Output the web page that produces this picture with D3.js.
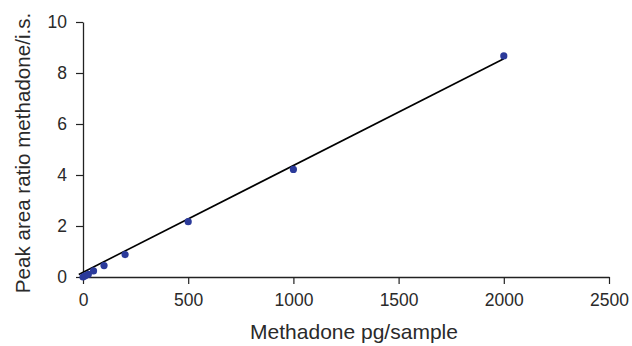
<!DOCTYPE html>
<html><head><meta charset="utf-8">
<script src="https://cdn.jsdelivr.net/npm/d3@7"></script>
<style>body{margin:0;background:#fff}svg{display:block}text{font-family:"Liberation Sans",Arial,sans-serif}</style>
</head><body>
<svg id="c" width="632" height="346"></svg>
<script>
const amounts = [0, 10, 25, 50, 100, 200, 500, 1000, 2000];
const ratios = [0.0, 0.05, 0.1, 0.24, 0.45, 0.88, 2.17, 4.22, 8.67];
const fitX = [-20, 2000];
const fitY = [0.1, 8.56];
const xTicks = [0, 500, 1000, 1500, 2000, 2500];
const yTicks = [0, 2, 4, 6, 8, 10];

const svg = d3.select("#c");
const x = d3.scaleLinear().domain([0, 2500]).range([83, 609]);
const y = d3.scaleLinear().domain([0, 10]).range([277, 22]);

const xa = svg.append("g").attr("transform", "translate(0,277)")
  .call(d3.axisBottom(x).tickValues(xTicks).tickFormat(d3.format("d")).tickSize(7).tickPadding(10).tickSizeOuter(0));
const ya = svg.append("g").attr("transform", "translate(83,0)")
  .call(d3.axisLeft(y).tickValues(yTicks).tickFormat(d3.format("d")).tickSize(7).tickPadding(9).tickSizeOuter(0));
[xa, ya].forEach(a => {
  a.attr("font-size", null).attr("font-family", null);
  a.select(".domain").attr("stroke", "#222").attr("stroke-width", 1.3);
  a.selectAll(".tick line").attr("stroke", "#222").attr("stroke-width", 1.2);
  a.selectAll("text").style("font-size", "17.5px").attr("fill", "#2a2a2a")
    .style("font-family", '"Liberation Sans",Arial,sans-serif');
});

svg.append("line")
  .attr("x1", x(fitX[0])).attr("y1", y(fitY[0]))
  .attr("x2", x(fitX[1])).attr("y2", y(fitY[1]))
  .attr("stroke", "#000").attr("stroke-width", 1.6);

svg.selectAll("circle.p").data(amounts).enter().append("circle")
  .attr("class", "p")
  .attr("cx", d => x(d)).attr("cy", (d, i) => y(ratios[i]))
  .attr("r", 3.6).attr("fill", "#2b3a9a");

svg.append("text").attr("x", 354).attr("y", 339).attr("text-anchor", "middle")
  .style("font-size", "21px").attr("fill", "#2a2a2a").text("Methadone pg/sample");
svg.append("text").attr("transform", "translate(30,153) rotate(-90)").attr("text-anchor", "middle")
  .style("font-size", "20.6px").attr("fill", "#2a2a2a").text("Peak area ratio methadone/i.s.");
</script>
</body></html>
